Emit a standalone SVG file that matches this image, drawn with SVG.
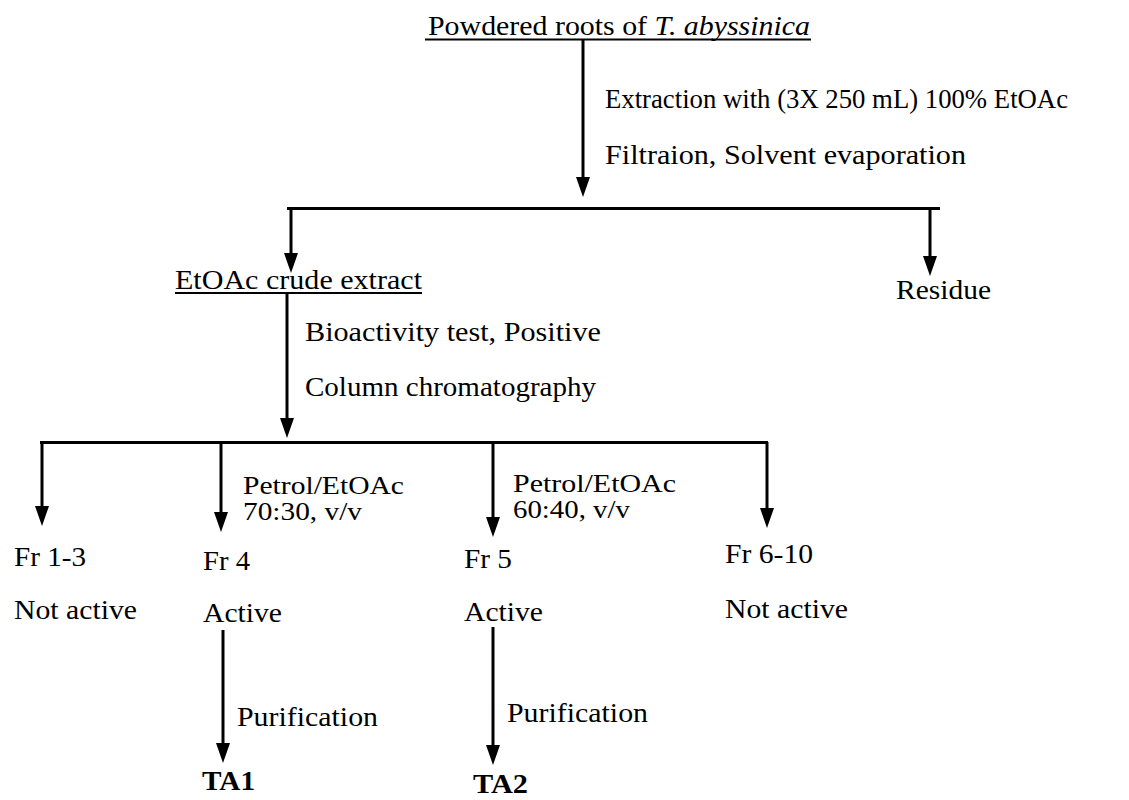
<svg xmlns="http://www.w3.org/2000/svg" width="1129" height="800" viewBox="0 0 1129 800">
<style>
text{font-family:"Liberation Serif","Times New Roman",serif;font-size:28px;fill:#000}
.b{font-weight:bold;font-size:28px}
.s{font-size:25px}
.ln{stroke:#000;stroke-width:3;fill:none}
.ul{stroke:#000;stroke-width:2}
</style>
<defs>
<marker id="ah" viewBox="0 0 20 14" markerWidth="20" markerHeight="14" refX="12" refY="7" orient="auto" markerUnits="userSpaceOnUse">
<path d="M0,0 L20,7 L0,14 Z" fill="#000"/>
</marker>
</defs>
<rect width="1129" height="800" fill="#fff"/>
<g id="connectors">
<line class="ln" x1="583" y1="39" x2="583" y2="189" marker-end="url(#ah)"/>
<line class="ln" x1="287" y1="208.5" x2="940" y2="208.5"/>
<line class="ln" x1="291" y1="208" x2="291" y2="265" marker-end="url(#ah)"/>
<line class="ln" x1="930" y1="208" x2="930" y2="268" marker-end="url(#ah)"/>
<line class="ln" x1="287" y1="293" x2="287" y2="430" marker-end="url(#ah)"/>
<line class="ln" x1="40" y1="442.5" x2="768" y2="442.5"/>
<line class="ln" x1="42" y1="442" x2="42" y2="518" marker-end="url(#ah)"/>
<line class="ln" x1="221" y1="442" x2="221" y2="524" marker-end="url(#ah)"/>
<line class="ln" x1="493" y1="442" x2="493" y2="529" marker-end="url(#ah)"/>
<line class="ln" x1="767" y1="442" x2="767" y2="520" marker-end="url(#ah)"/>
<line class="ln" x1="223" y1="630" x2="223" y2="755" marker-end="url(#ah)"/>
<line class="ln" x1="493" y1="627" x2="493" y2="757" marker-end="url(#ah)"/>
</g>
<g id="n-roots">
<text x="428" y="35" textLength="382" lengthAdjust="spacingAndGlyphs">Powdered roots of <tspan font-style="italic">T. abyssinica</tspan></text>
<line class="ul" x1="425" y1="39.5" x2="811" y2="39.5"/>
</g>
<g id="l-extraction">
<text x="605" y="108" textLength="463" lengthAdjust="spacingAndGlyphs">Extraction with (3X 250 mL) 100% EtOAc</text>
<text x="605" y="164" textLength="361" lengthAdjust="spacingAndGlyphs">Filtraion, Solvent evaporation</text>
</g>
<g id="n-crude">
<text x="175" y="289" textLength="247" lengthAdjust="spacingAndGlyphs">EtOAc crude extract</text>
<line class="ul" x1="175" y1="293" x2="422" y2="293"/>
</g>
<g id="n-residue"><text x="896" y="299" textLength="95" lengthAdjust="spacingAndGlyphs">Residue</text></g>
<g id="l-column">
<text x="305" y="341" textLength="296" lengthAdjust="spacingAndGlyphs">Bioactivity test, Positive</text>
<text x="305" y="396" textLength="291" lengthAdjust="spacingAndGlyphs">Column chromatography</text>
</g>
<g id="n-fr13">
<text x="14" y="566" textLength="72" lengthAdjust="spacingAndGlyphs">Fr 1-3</text>
<text x="14" y="619" textLength="123" lengthAdjust="spacingAndGlyphs">Not active</text>
</g>
<g id="n-fr4">
<text class="s" x="243" y="494" textLength="161" lengthAdjust="spacingAndGlyphs">Petrol/EtOAc</text>
<text class="s" x="243" y="520" textLength="119" lengthAdjust="spacingAndGlyphs">70:30, v/v</text>
<text x="203" y="570" textLength="47" lengthAdjust="spacingAndGlyphs">Fr 4</text>
<text x="203" y="622" textLength="79" lengthAdjust="spacingAndGlyphs">Active</text>
</g>
<g id="n-fr5">
<text class="s" x="513" y="492" textLength="163" lengthAdjust="spacingAndGlyphs">Petrol/EtOAc</text>
<text class="s" x="513" y="518" textLength="117" lengthAdjust="spacingAndGlyphs">60:40, v/v</text>
<text x="464" y="568" textLength="48" lengthAdjust="spacingAndGlyphs">Fr 5</text>
<text x="464" y="621" textLength="79" lengthAdjust="spacingAndGlyphs">Active</text>
</g>
<g id="n-fr610">
<text x="725" y="563" textLength="88" lengthAdjust="spacingAndGlyphs">Fr 6-10</text>
<text x="725" y="618" textLength="123" lengthAdjust="spacingAndGlyphs">Not active</text>
</g>
<g id="l-pur1"><text x="237" y="726" textLength="141" lengthAdjust="spacingAndGlyphs">Purification</text></g>
<g id="l-pur2"><text x="507" y="722" textLength="141" lengthAdjust="spacingAndGlyphs">Purification</text></g>
<g id="n-ta1"><text class="b" x="202" y="790" textLength="53" lengthAdjust="spacingAndGlyphs">TA1</text></g>
<g id="n-ta2"><text class="b" x="473" y="793" textLength="55" lengthAdjust="spacingAndGlyphs">TA2</text></g>
</svg>
